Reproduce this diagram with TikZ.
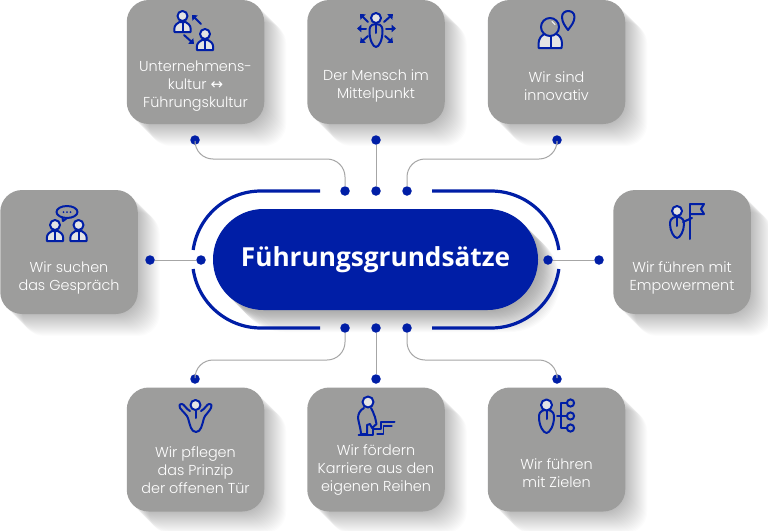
\documentclass[tikz,border=0pt]{standalone}
\usepackage{fontspec}
\usetikzlibrary{arrows.meta}
\setmainfont{Open Sans}
\newfontfamily\bodyf{Poppins Light}
\newfontfamily\titlef{Open Sans}
\newfontfamily\symf{DejaVu Sans}
\definecolor{brandblue}{HTML}{001EA6}
\definecolor{cardgray}{HTML}{9D9D9C}
\definecolor{connline}{HTML}{A6A6A6}
\definecolor{inkfill}{HTML}{E4E4E4}
\tikzset{
  card/.style={fill=cardgray,rounded corners=22pt,minimum width=137.5pt,minimum height=124pt,inner sep=0pt},
  cardtext/.style={text=white,align=center,inner sep=0pt,font=\bodyf\fontsize{14.4}{18}\selectfont},
  dotn/.style={circle,fill=brandblue,inner sep=0pt,minimum size=9.5pt},
  conn/.style={draw=connline,line width=1pt,rounded corners=18pt},
  ring/.style={draw=brandblue,line width=3.2pt},
  ic/.style={draw=brandblue,line width=2pt,line join=round,line cap=round},
  ictip/.style={ic,-{Triangle[length=4.4pt,width=7.4pt]}},
  headf/.style={ic,fill=inkfill}
}
\newcommand{\cardshadow}[2]{%
  \foreach \i in {1,...,22}{
    \fill[black,opacity=0.013,rounded corners=22pt]
      ({#1-68.75+\i},{#2-62+\i}) rectangle ({#1+68.75+\i},{#2+62+\i});
  }}
\newcommand{\bust}[3]{%
  \begin{scope}[shift={(#1,#2)},scale=#3]
    \draw[ic,fill=inkfill] (-8,16) -- (-8.2,13) .. controls (-8.2,9) and (-5,7) .. (-3,6) -- (3,6) .. controls (5,7) and (8.2,9) .. (8.2,13) -- (8,16) -- cycle;
    \draw[ic] (0,6) -- (0,15.5);
    \draw[ic,fill=inkfill] (0,0) circle[radius=5pt];
  \end{scope}}
\newcommand{\bean}[4]{% x, neck y, bottom y, half width
  \draw[ic] (#1,#2) .. controls ({#1-#4},#2) and ({#1-#4},{#2+5}) .. ({#1-#4},{#2+7})
     .. controls ({#1-#4},{#3-7}) and ({#1-3},#3) .. (#1,#3)
     .. controls ({#1+3},#3) and ({#1+#4},{#3-7}) .. ({#1+#4},{#2+7})
     .. controls ({#1+#4},{#2+5}) and ({#1+#4},#2) .. (#1,#2);}
\begin{document}
\begin{tikzpicture}[x=1pt,y=-1pt]
\useasboundingbox (0,0) rectangle (768,530);
\fill[white] (0,0) rectangle (768,530);

% shadows
\cardshadow{195.5}{62}
\cardshadow{376}{62}
\cardshadow{556.5}{62}
\cardshadow{69}{252}
\cardshadow{682}{252}
\cardshadow{195.5}{449.5}
\cardshadow{376}{449.5}
\cardshadow{556.5}{449.5}
\foreach \i in {1,...,22}{
  \fill[black,opacity=0.014,rounded corners=50pt]
    ({213+\i},{209+\i}) rectangle ({538+\i},{310+\i});
}

% cards
\node[card] (c1) at (195.5,62) {};
\node[card] (c2) at (376,62) {};
\node[card] (c3) at (556.5,62) {};
\node[card] (c4) at (69,252) {};
\node[card] (c5) at (682,252) {};
\node[card] (c6) at (195.5,449.5) {};
\node[card] (c7) at (376,449.5) {};
\node[card] (c8) at (556.5,449.5) {};

\node[cardtext] (t1) at (195.5,86) {Unternehmens-\\kultur {\symf\fontsize{15}{18}\selectfont ↔}\\Führungskultur};
\node[cardtext] (t2) at (376,86) {Der Mensch im\\Mittelpunkt};
\node[cardtext] (t3) at (556.5,86) {Wir sind\\innovativ};
\node[cardtext] (t4) at (69,278) {Wir suchen\\das Gespräch};
\node[cardtext] (t5) at (682,278) {Wir führen mit\\Empowerment};
\node[cardtext] (t6) at (195.5,470) {Wir pflegen\\das Prinzip\\der offenen Tür};
\node[cardtext] (t7) at (376,470) {Wir fördern\\Karriere aus den\\eigenen Reihen};
\node[cardtext] (t8) at (556.5,473) {Wir führen\\mit Zielen};

% centre
\node[fill=brandblue,rounded corners=50.4pt,minimum width=325pt,minimum height=101pt,inner sep=0pt,text=white,font=\titlef\bfseries\fontsize{26.2}{30}\selectfont] (hub) at (375.5,259.5) {Führungsgrundsätze};
\draw[ring] (320,191) -- (261,191) arc[start angle=90,end angle=172,radius=68.5pt];
\draw[ring] (320,328) -- (261,328) arc[start angle=270,end angle=188,radius=68.5pt];
\draw[ring] (432,191) -- (491,191) arc[start angle=90,end angle=8,radius=68.5pt];
\draw[ring] (432,328) -- (491,328) arc[start angle=270,end angle=352,radius=68.5pt];

% dots
\node[dotn] (a1) at (195,140) {};
\node[dotn] (a2) at (376,140) {};
\node[dotn] (a3) at (557,140) {};
\node[dotn] (b1) at (345,191) {};
\node[dotn] (b2) at (376,191) {};
\node[dotn] (b3) at (407,191) {};
\node[dotn] (l1) at (150,260) {};
\node[dotn] (l2) at (201,260) {};
\node[dotn] (r1) at (548,260) {};
\node[dotn] (r2) at (599,260) {};
\node[dotn] (d1) at (345,328) {};
\node[dotn] (d2) at (376,328) {};
\node[dotn] (d3) at (407,328) {};
\node[dotn] (e1) at (195,379) {};
\node[dotn] (e2) at (376,379) {};
\node[dotn] (e3) at (557,379) {};

% connectors
\coordinate (m1) at (270,159);
\coordinate (m3) at (480,159);
\coordinate (m6) at (270,360);
\coordinate (m8) at (480,360);
\draw[conn] (a1.south) |- (m1) -| (b1.north);
\draw[conn] (a2.south) -- (b2.north);
\draw[conn] (a3.south) |- (m3) -| (b3.north);
\draw[conn] (l1.east) -- (l2.west);
\draw[conn] (r1.east) -- (r2.west);
\draw[conn] (d1.south) |- (m6) -| (e1.north);
\draw[conn] (d2.south) -- (e2.north);
\draw[conn] (d3.south) |- (m8) -| (e3.north);

% icon 1
\bust{182.5}{16}{1}
\bust{205}{34}{1}
\draw[ictip] (201,24) -- (192,15);
\draw[ictip] (184,35) -- (194,44);

% icon 2
\bean{376}{24}{47}{6.5}
\draw[ic] (376,25) -- (376,33);
\draw[headf] (376,18) circle[radius=5pt];
\draw[ictip] (368,22) -- (360,14);
\draw[ictip] (384,22) -- (393,14);
\draw[ictip] (366,28.5) -- (357,28.5);
\draw[ictip] (386,28.5) -- (396,28.5);
\draw[ictip] (368,36) -- (360,43);
\draw[ictip] (385,36) -- (393,43);

% icon 3
\draw[ic,fill=inkfill] (538.5,48) -- (538.5,44) .. controls (538.5,38) and (542,35) .. (545,34) -- (556,34) .. controls (560,35) and (562,39) .. (562,44) -- (561.5,48) -- cycle;
\draw[ic] (551,35) -- (551,47.5);
\draw[ic,fill=cardgray] (550,27) circle[radius=9pt];
\draw[draw=white,line width=1pt,line cap=round] (552,21.5) -- (555,24.5);
\draw[ic,fill=cardgray] (568,30) .. controls (565,26) and (562,22) .. (562,17) .. controls (562,9) and (574.5,9) .. (574.5,17) .. controls (574.5,22) and (571,26) .. (568,30) -- cycle;

% icon 4
\bust{55}{225}{1}
\bust{78.5}{225}{1}
\draw[ic] (67,212) ellipse[x radius=10.5pt,y radius=6pt];
\draw[ic] (62.5,217.5) -- (63,221) -- (67,218);
\fill[brandblue] (63.5,212) circle[radius=1pt] (67,212) circle[radius=1pt] (70.5,212) circle[radius=1pt];

% icon 5
\bean{677}{217}{238}{7}
\draw[ic] (677,218) -- (677,226);
\draw[headf] (677,211) circle[radius=5pt];
\draw[ic] (683,222) -- (692,218);
\draw[ic] (690,204) -- (690,239);
\draw[ic] (690,204) -- (704,204) -- (701,209) -- (704,214) -- (690,214);

% icon 6
\draw[ic] (190,411) .. controls (186,409) and (184,404) .. (182,404) .. controls (179,404) and (179,406) .. (180,408)
  .. controls (183,412) and (187,415) .. (188,418) .. controls (190,425) and (191,432) .. (196,432)
  .. controls (201,432) and (202,425) .. (204,418) .. controls (205,415) and (209,412) .. (211,408)
  .. controls (212,406) and (212,404) .. (209,404) .. controls (207,404) and (205,409) .. (201,411);
\draw[ic] (195.5,411) -- (195.5,418);
\draw[headf] (195.5,405) circle[radius=5pt];

% icon 7
\draw[headf] (368,402) circle[radius=5.5pt];
\draw[ic] (364,408) .. controls (360,410) and (358,414) .. (358,418) .. controls (359,424) and (361,430) .. (361,434)
  -- (367,434) -- (367,425) -- (370,424) -- (372,428) -- (376.5,424) -- (375,417) .. controls (373,413) and (373,410) .. (371,408);
\draw[ic] (358.5,435) -- (373,435) -- (373,428.5) -- (381,428.5) -- (381,422) -- (394.5,422);
\draw[ic,line width=1.3pt] (377,434) -- (383.5,434) -- (383.5,426) -- (392,426);

% icon 8
\bean{546.5}{410}{433}{7.5}
\draw[ic] (546.5,411) -- (546.5,419);
\draw[headf] (546.5,405) circle[radius=5.5pt];
\draw[ic] (557,416) -- (567,416);
\draw[ic] (567,403) -- (561,403) -- (561,428) -- (567,428);
\draw[ic] (570.5,403) circle[radius=3.6pt] (570.5,416) circle[radius=3.6pt] (570.5,428) circle[radius=3.6pt];
\end{tikzpicture}
\end{document}
